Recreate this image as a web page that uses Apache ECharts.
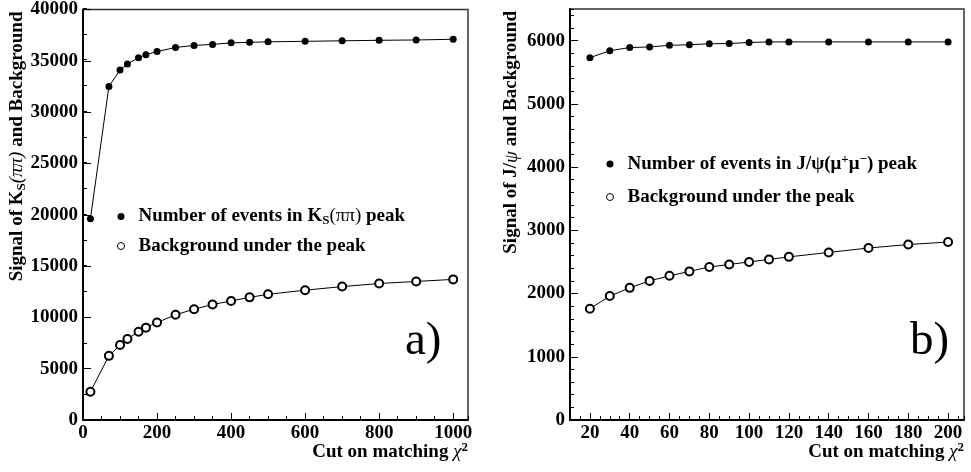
<!DOCTYPE html>
<html><head><meta charset="utf-8">
<script src="https://cdn.jsdelivr.net/npm/echarts@6/dist/echarts.min.js"></script>
<style>html,body{margin:0;padding:0;background:#fff}#c{width:971px;height:472px}</style>
</head><body><div id="c"></div>
<script>
// ---- data ----
const ksCuts = [20,70,100,120,150,170,200,250,300,350,400,450,500,600,700,800,900,1000];
const ksSignal = [19600,32500,34100,34700,35300,35600,35900,36300,36500,36600,36750,36800,36850,36900,36950,37000,37030,37100];
const ksBackground = [2750,6250,7300,7900,8600,9000,9500,10250,10800,11250,11600,11950,12250,12650,13000,13300,13500,13700];
const jpsiCuts = [20,30,40,50,60,70,80,90,100,110,120,140,160,180,200];
const jpsiSignal = [5730,5840,5890,5900,5925,5935,5950,5955,5970,5980,5980,5980,5980,5980,5980];
const jpsiBackground = [1760,1960,2090,2200,2280,2350,2420,2460,2500,2540,2580,2650,2720,2775,2815];
const ksXTicks = [0,200,400,600,800,1000];
const ksYTicks = [0,5000,10000,15000,20000,25000,30000,35000,40000];
const jpsiXTicks = [20,40,60,80,100,120,140,160,180,200];
const jpsiYTicks = [0,1000,2000,3000,4000,5000,6000];

const FONT = 'Liberation Serif';
const FS = 19;
const rich = {
  b:   {fontFamily: FONT, fontWeight: 'bold', fontSize: FS, color: '#000'},
  n:   {fontFamily: FONT, fontWeight: 'normal', fontSize: FS, color: '#000'},
  it:  {fontFamily: FONT, fontWeight: 'normal', fontStyle: 'italic', fontSize: FS, color: '#000'},
  sub: {fontFamily: FONT, fontWeight: 'bold', fontSize: 13, color: '#000', padding: [9, 0, 0, 0]},
  sup: {fontFamily: FONT, fontWeight: 'bold', fontSize: 13, color: '#000', padding: [0, 0, 9, 0]}
};
const NAME_KS_SIG = 'Number of events in K_S(ππ) peak';
const NAME_KS_BKG = 'Background under the peak (a)';
const NAME_J_SIG = 'Number of events in J/ψ(μ⁺μ⁻) peak';
const NAME_J_BKG = 'Background under the peak (b)';
const legendText = {
  [NAME_KS_SIG]: '{b|Number of events in K}{sub|S}{n|(ππ)}{b| peak}',
  [NAME_KS_BKG]: '{b|Background under the peak}',
  [NAME_J_SIG]: '{b|Number of events in J/ψ(μ}{sup|+}{b|μ}{sup|−}{b|) peak}',
  [NAME_J_BKG]: '{b|Background under the peak}'
};

const labelStyle = {fontFamily: FONT, fontWeight: 'bold', fontSize: FS, color: '#000', formatter: v => String(v)};
function majorX(grid, min, max, ticks) {
  return {
    gridIndex: grid, type: 'value', min: min, max: max, position: 'bottom',
    axisLine: {show: true, onZero: false, lineStyle: {color: '#000', width: 2}},
    axisTick: {show: true, inside: true, length: 7, customValues: ticks, lineStyle: {color: '#000', width: 1}},
    axisLabel: Object.assign({show: true, margin: 4, customValues: ticks}, labelStyle),
    splitLine: {show: false},
    name: '{b|Cut on matching }{it|χ}{sup|2}', nameLocation: 'end', nameGap: 0, nameMoveOverlap: false,
    nameTextStyle: {align: 'right', verticalAlign: 'top', padding: [21, 0, 0, 0], rich: rich}
  };
}
function minorX(grid, min, max, step) {
  return {
    gridIndex: grid, type: 'value', min: min, max: max, interval: step, position: 'bottom',
    axisLine: {show: false}, axisLabel: {show: false}, splitLine: {show: false},
    axisTick: {show: true, inside: true, length: 4, lineStyle: {color: '#000', width: 1}}
  };
}
function majorY(grid, min, max, ticks, name, pad) {
  return {
    gridIndex: grid, type: 'value', min: min, max: max, position: 'left',
    axisLine: {show: true, onZero: false, lineStyle: {color: '#000', width: 2}},
    axisTick: {show: true, inside: true, length: 8, customValues: ticks, lineStyle: {color: '#000', width: 1}},
    axisLabel: Object.assign({show: true, margin: 5, customValues: ticks}, labelStyle),
    splitLine: {show: false},
    name: name, nameLocation: 'end', nameGap: -2, nameRotate: 90, nameMoveOverlap: false,
    nameTextStyle: {align: 'right', verticalAlign: 'bottom', padding: [0, 0, pad, 0], rich: rich}
  };
}
function minorY(grid, min, max, step) {
  return {
    gridIndex: grid, type: 'value', min: min, max: max, interval: step, position: 'left',
    axisLine: {show: false}, axisLabel: {show: false}, splitLine: {show: false},
    axisTick: {show: true, inside: true, length: 4, lineStyle: {color: '#000', width: 1}}
  };
}
function pairs(xs, ys) { return xs.map((x, i) => [x, ys[i]]); }
function filled(name, xi, xs, ys) {
  return {name: name, type: 'line', xAxisIndex: xi, yAxisIndex: xi, data: pairs(xs, ys),
    symbol: 'circle', symbolSize: 7, lineStyle: {color: '#000', width: 1},
    itemStyle: {color: '#000'}, silent: true, z: 3};
}
function hollow(name, xi, xs, ys) {
  return {name: name, type: 'line', xAxisIndex: xi, yAxisIndex: xi, data: pairs(xs, ys),
    symbol: 'emptyCircle', symbolSize: 8, lineStyle: {color: '#000', width: 1},
    itemStyle: {color: '#000', borderWidth: 1}, silent: true, z: 3};
}
function legend(left, top, gap, sigName, bkgName) {
  return {
    left: left, top: top, orient: 'vertical', itemGap: gap, itemWidth: 7, itemHeight: 7,
    selectedMode: false, padding: 0,
    data: [
      {name: sigName, icon: 'circle', itemStyle: {color: '#000', borderWidth: 0}},
      {name: bkgName, icon: 'circle', itemStyle: {color: '#fff', borderColor: '#000', borderWidth: 1}}
    ],
    formatter: n => legendText[n],
    textStyle: {fontFamily: FONT, fontWeight: 'bold', fontSize: FS, color: '#000', padding: [0, 0, 0, 9], rich: rich}
  };
}

const chart = echarts.init(document.getElementById('c'), null, {renderer: 'canvas'});
chart.setOption({
  animation: false,
  backgroundColor: '#fff',
  grid: [
    {left: 83, top: 8, width: 385, height: 412, show: true, z: -10, borderColor: '#333', borderWidth: 1.5, backgroundColor: 'rgba(0,0,0,0)'},
    {left: 83, top: 8, width: 385, height: 412, show: false},
    {left: 570, top: 9, width: 394, height: 411, show: true, z: -10, borderColor: '#333', borderWidth: 1.5, backgroundColor: 'rgba(0,0,0,0)'},
    {left: 570, top: 9, width: 394, height: 411, show: false}
  ],
  xAxis: [
    majorX(0, 0, 1040, ksXTicks),
    minorX(1, 0, 1040, 50),
    majorX(2, 10, 208, jpsiXTicks),
    minorX(3, 10, 208, 5)
  ],
  yAxis: [
    majorY(0, 0, 40000, ksYTicks, '{b|Signal of K}{sub|S}{it|(ππ)}{b| and Background}', 55),
    minorY(1, 0, 40000, 2500),
    majorY(2, 0, 6500, jpsiYTicks, '{b|Signal of J/}{it|ψ}{b| and Background}', 49),
    minorY(3, 0, 6500, 200)
  ],
  legend: [
    legend(117, 207, 9, NAME_KS_SIG, NAME_KS_BKG),
    legend(606, 153, 14, NAME_J_SIG, NAME_J_BKG)
  ],
  title: [
    {text: 'a)', left: 405, top: 318, padding: 0, textStyle: {fontFamily: FONT, fontWeight: 'normal', fontSize: 47, color: '#000'}},
    {text: 'b)', left: 910, top: 318, padding: 0, textStyle: {fontFamily: FONT, fontWeight: 'normal', fontSize: 47, color: '#000'}}
  ],
  series: [
    filled(NAME_KS_SIG, 0, ksCuts, ksSignal),
    hollow(NAME_KS_BKG, 0, ksCuts, ksBackground),
    filled(NAME_J_SIG, 2, jpsiCuts, jpsiSignal),
    hollow(NAME_J_BKG, 2, jpsiCuts, jpsiBackground)
  ]
});
</script></body></html>
